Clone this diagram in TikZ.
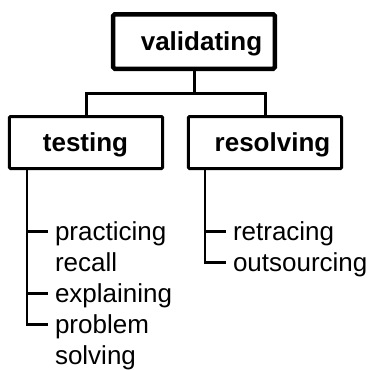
\documentclass[tikz,border=0pt]{standalone}
\usepackage{fontspec}
\setmainfont{Liberation Sans}
\begin{document}
\begin{tikzpicture}[x=1bp, y=-1bp,
  every node/.style={font=\fontsize{26bp}{31bp}\selectfont, outer sep=0pt},
  topbox/.style={draw, line width=4.5bp, rounded corners=1.5bp, inner sep=0pt,
                 minimum width=161.5bp, minimum height=54.5bp},
  subbox/.style={draw, line width=3bp, rounded corners=1bp, inner sep=0pt,
                 minimum width=153bp, minimum height=52bp},
  title/.style={anchor=base, inner sep=0pt, font=\fontsize{26bp}{31bp}\selectfont\bfseries},
  item/.style={anchor=base west, inner xsep=7bp, inner ysep=0pt},
  link/.style={line width=3bp},
  twig/.style={line width=2.6bp}
]
\useasboundingbox (0,0) rectangle (372,370);

% boxes
\node[topbox] (val) at (194,41.5) {};
\node[title] (valt) at (201.5,50) {validating};
\node[subbox] (test) at (86,142.5) {};
\node[title] (testt) at (85.5,151) {testing};
\node[subbox] (res) at (265,142.5) {};
\node[title] (rest) at (272.5,151) {resolving};

% tree connectors
\coordinate (fork) at (194,93);
\draw[link] (val.south) -- (fork);
\draw[link] (test.north) |- (fork) -| (res.north);

% testing items
\coordinate (tstem) at ([xshift=17.5bp]test.south west);
\node[item] (p1) at (48,240) {practicing};
\node[item] (p2) at (48,271) {recall};
\node[item] (p3) at (48,302) {explaining};
\node[item] (p4) at (48,333) {problem};
\node[item] (p5) at (48,364) {solving};
\coordinate (p1t) at ([yshift=8.5bp]p1.base west);
\coordinate (p3t) at ([yshift=8.5bp]p3.base west);
\coordinate (p4t) at ([yshift=8.5bp]p4.base west);
\draw[twig] (tstem) |- (p4t);
\draw[twig] (tstem |- p1t) -- (p1t);
\draw[twig] (tstem |- p3t) -- (p3t);

% resolving items
\coordinate (rstem) at ([xshift=16.5bp]res.south west);
\node[item] (r1) at (226,240) {retracing};
\node[item] (r2) at (226,271) {outsourcing};
\coordinate (r1t) at ([yshift=8.5bp]r1.base west);
\coordinate (r2t) at ([yshift=8.5bp]r2.base west);
\draw[twig] (rstem) |- (r2t);
\draw[twig] (rstem |- r1t) -- (r1t);
\end{tikzpicture}
\end{document}
